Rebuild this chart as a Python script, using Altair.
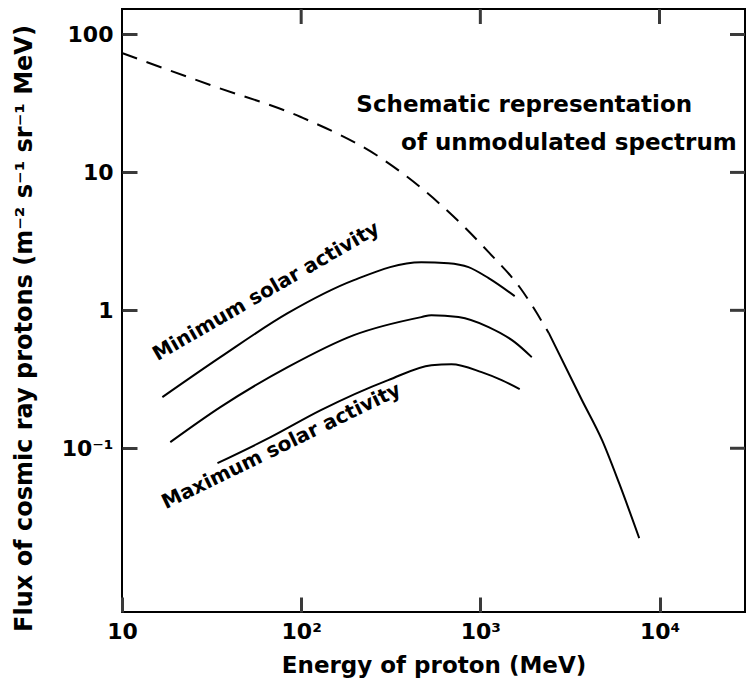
import altair as alt
import pandas as pd

# ---- data ----
# unmodulated spectrum, dashed (schematic) part
unmod_dash_E = [10, 31.1, 99.5, 279, 764, 1112, 1659, 2412]
unmod_dash_F = [73.3, 43.0, 25.2, 12.7, 4.36, 2.64, 1.47, 0.683]
# unmodulated spectrum, solid high-energy part
unmod_solid_E = [2412, 3693, 4780, 5951, 7706]
unmod_solid_F = [0.683, 0.223, 0.1145, 0.0558, 0.0223]

# modulated spectra
min_E = [16.8, 35.4, 84.1, 197, 468, 663, 859, 1112, 1555]
min_F = [0.2348, 0.4576, 0.954, 1.656, 2.236, 2.199, 2.057, 1.712, 1.268]
mid_E = [18.6, 35.4, 84.1, 197, 468, 533, 755, 1112, 1555, 1936]
mid_F = [0.1107, 0.1986, 0.3873, 0.661, 0.893, 0.923, 0.893, 0.7555, 0.588, 0.4576]
max_E = [34.1, 67.5, 128.8, 306, 533, 690, 1016, 1315, 1659]
max_F = [0.0780, 0.1203, 0.1889, 0.3118, 0.4005, 0.4072, 0.3563, 0.3118, 0.2684]

# annotations
ann_text = ["Schematic representation", "of unmodulated spectrum",
            "Minimum solar activity", "Maximum solar activity"]
ann_E = [1758, 3122, 63.7, 77.6]
ann_F = [30.8, 16.3, 1.369, 0.1034]
ann_angle = [0, 0, 330, 334]
ann_size = [23, 23, 20, 20]

x_ticks = [10, 100, 1000, 10000]
x_inner_ticks = [100, 1000, 10000]
y_ticks = [0.1, 1, 10, 100]

FONT = "DejaVu Sans"
TICK_COLOR = "#3a3a3a"

# ---- tables ----
def mk(E, F, name):
    return pd.DataFrame({"E": E, "F": F, "series": name, "order": range(len(E))})

mod_df = pd.concat([mk(min_E, min_F, "min"), mk(mid_E, mid_F, "mid"), mk(max_E, max_F, "max")])
dash_df = mk(unmod_dash_E, unmod_dash_F, "dash")
solid_df = mk(unmod_solid_E, unmod_solid_F, "solid")
ann_df = pd.DataFrame({"text": ann_text, "E": ann_E, "F": ann_F,
                       "angle": ann_angle, "size": ann_size})
xt_df = pd.DataFrame({"E": [float(v) for v in x_inner_ticks]})
yt_df = pd.DataFrame({"F": [float(v) for v in y_ticks]})

xs = alt.Scale(type="log", domain=[10, 30000], nice=False)
ys = alt.Scale(type="log", domain=[0.0065, 153], nice=False)

W, H = 623, 603
TICK = 15
TW = 3

label_x_expr = ("datum.value == 10 ? '10' : datum.value == 100 ? '10²' : "
                "datum.value == 1000 ? '10³' : '10⁴'")
label_y_expr = ("datum.value == 100 ? '100' : datum.value == 10 ? '10' : "
                "datum.value == 1 ? '1' : '10⁻¹'")

# axis lines shifted inside by TICK so the ticks point into the plot
x_axis = alt.Axis(orient="bottom", values=x_ticks, labelExpr=label_x_expr,
                  ticks=True, tickSize=TICK, tickWidth=TW, tickColor=TICK_COLOR,
                  offset=-TICK, domain=False, grid=False,
                  labelFont=FONT, labelFontWeight="bold", labelFontSize=22,
                  labelColor="black", labelPadding=9, labelBaseline="top",
                  labelFlush=False,
                  title="Energy of proton (MeV)", titleFont=FONT,
                  titleFontWeight="bold", titleFontSize=23, titleColor="black",
                  titleX=W / 2, titleY=53 + TICK, titleAnchor="middle",
                  titleAlign="center", titleBaseline="middle")
y_axis = alt.Axis(orient="left", values=y_ticks, labelExpr=label_y_expr,
                  ticks=True, tickSize=TICK, tickWidth=TW, tickColor=TICK_COLOR,
                  offset=-TICK, domain=False, grid=False,
                  labelFont=FONT, labelFontWeight="bold", labelFontSize=22,
                  labelColor="black", labelPadding=9, labelBaseline="middle",
                  labelFlush=False,
                  title="Flux of cosmic ray protons (m⁻² s⁻¹ sr⁻¹ MeV)",
                  titleFont=FONT, titleFontWeight="bold", titleFontSize=24,
                  titleColor="black", titleAngle=270,
                  titleX=-98 - TICK, titleY=319, titleAlign="center",
                  titleBaseline="middle")

mod_layer = alt.Chart(mod_df).mark_line(color="black", strokeWidth=2,
                                        interpolate="monotone").encode(
    x=alt.X("E:Q", scale=xs, axis=x_axis),
    y=alt.Y("F:Q", scale=ys, axis=y_axis),
    detail="series:N", order="order:Q")

dash_layer = alt.Chart(dash_df).mark_line(color="black", strokeWidth=2,
                                          strokeDash=[16, 10],
                                          interpolate="monotone").encode(
    x=alt.X("E:Q", scale=xs), y=alt.Y("F:Q", scale=ys), order="order:Q")

solid_layer = alt.Chart(solid_df).mark_line(color="black", strokeWidth=2,
                                            interpolate="monotone").encode(
    x=alt.X("E:Q", scale=xs), y=alt.Y("F:Q", scale=ys), order="order:Q")

# inward ticks on the top and right frame
top_ticks = alt.Chart(xt_df).mark_rect(color=TICK_COLOR, width=TW).encode(
    x=alt.X("E:Q", scale=xs), y=alt.value(0), y2=alt.value(TICK))
right_ticks = alt.Chart(yt_df).mark_rect(color=TICK_COLOR, height=TW).encode(
    y=alt.Y("F:Q", scale=ys), x=alt.value(W - TICK), x2=alt.value(W))

text_layer = alt.Chart(ann_df).mark_text(font=FONT, fontWeight="bold", color="black",
                                         align="center", baseline="middle").encode(
    x=alt.X("E:Q", scale=xs), y=alt.Y("F:Q", scale=ys),
    text="text:N",
    angle=alt.Angle("angle:Q", scale=None),
    size=alt.Size("size:Q", scale=None, legend=None))

chart = alt.layer(mod_layer, dash_layer, solid_layer, top_ticks, right_ticks,
                  text_layer).properties(
    width=W, height=H,
    autosize=alt.AutoSizeParams(type="none"),
    padding={"left": 122, "top": 9, "right": 2, "bottom": 72},
    background="white"
).configure_view(stroke="black", strokeWidth=2)

chart.save("out.html", embed_options={"renderer": "svg", "actions": False})
